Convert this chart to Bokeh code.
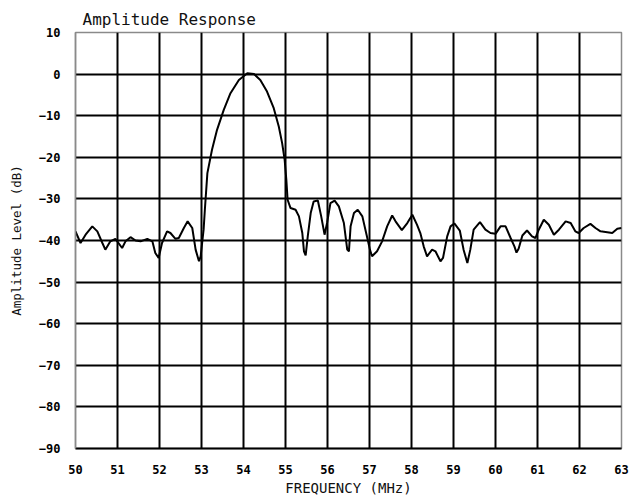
from bokeh.plotting import figure
from bokeh.models import FixedTicker, Range1d
from bokeh.embed import file_html
from bokeh.resources import INLINE

freq = [50.00, 50.12, 50.24, 50.40, 50.52, 50.64, 50.71, 50.83, 50.95, 51.11,
        51.19, 51.31, 51.43, 51.55, 51.71, 51.83, 51.90, 51.98, 52.06, 52.18,
        52.26, 52.38, 52.46, 52.58, 52.67, 52.78, 52.86, 52.94, 52.98, 53.05,
        53.08, 53.14, 53.25, 53.37, 53.53, 53.69, 53.89, 54.09, 54.25, 54.40,
        54.56, 54.72, 54.84, 54.92, 54.98, 55.02, 55.05, 55.12, 55.24, 55.32,
        55.40, 55.44, 55.48, 55.53, 55.60, 55.67, 55.77, 55.85, 55.93, 55.99,
        56.07, 56.17, 56.27, 56.39, 56.47, 56.51, 56.55, 56.63, 56.72, 56.83,
        56.93, 57.01, 57.06, 57.18, 57.30, 57.42, 57.54, 57.62, 57.77, 57.90,
        58.02, 58.13, 58.21, 58.29, 58.37, 58.49, 58.57, 58.69, 58.75, 58.85,
        58.93, 59.02, 59.15, 59.24, 59.33, 59.40, 59.48, 59.63, 59.76, 59.88,
        60.00, 60.12, 60.24, 60.36, 60.45, 60.50, 60.55, 60.64, 60.75, 60.87,
        60.95, 61.03, 61.15, 61.27, 61.39, 61.51, 61.67, 61.79, 61.90, 61.98,
        62.10, 62.26, 62.38, 62.50, 62.66, 62.78, 62.90, 63.00]

level = [-37.8, -40.6, -38.6, -36.6, -37.8, -40.6, -42.2, -40.2, -39.6, -41.8,
         -40.2, -39.2, -40.0, -40.2, -39.6, -40.2, -43.0, -44.2, -40.6, -37.8,
         -38.2, -39.6, -39.4, -37.0, -35.4, -37.0, -42.2, -45.0, -43.8, -37.4,
         -32.6, -23.8, -18.2, -13.4, -8.6, -4.6, -1.4, 0.2, 0.0, -1.4,
         -4.2, -8.2, -12.6, -16.6, -20.6, -25.4, -30.2, -32.2, -32.6, -34.2,
         -38.2, -42.6, -43.6, -39.0, -33.4, -30.6, -30.4, -34.2, -38.6, -35.8,
         -31.0, -30.4, -31.8, -35.8, -42.2, -42.6, -36.6, -33.4, -32.6, -34.2,
         -38.6, -42.2, -43.8, -42.6, -40.2, -36.6, -34.0, -35.4, -37.5, -35.8,
         -33.8, -36.2, -38.2, -41.4, -43.8, -42.2, -42.6, -45.0, -44.2, -39.0,
         -36.6, -35.9, -37.6, -42.2, -45.4, -42.2, -37.4, -35.6, -37.4, -38.2,
         -38.4, -36.6, -36.6, -39.4, -41.4, -42.9, -42.0, -38.8, -37.6, -39.0,
         -39.4, -37.4, -35.0, -36.2, -38.6, -37.4, -35.4, -35.8, -37.8, -38.2,
         -37.0, -36.0, -37.0, -37.8, -38.0, -38.2, -37.2, -37.0]

x_ticks = [50, 51, 52, 53, 54, 55, 56, 57, 58, 59, 60, 61, 62, 63]
x_tick_labels = ["50", "51", "52", "53", "54", "55", "56", "57", "58", "59",
                 "60", "61", "62", "63"]
y_ticks = [10, 0, -10, -20, -30, -40, -50, -60, -70, -80, -90]
y_tick_labels = ["10", "0", "\u221210", "\u221220", "\u221230", "\u221240",
                 "\u221250", "\u221260", "\u221270", "\u221280", "\u221290"]

title_text = "Amplitude Response"
x_label = "FREQUENCY (MHz)"
y_label = "Amplitude Level (dB)"

FONT = "DejaVu Sans Mono"

p = figure(width=637, height=498, output_backend="svg", toolbar_location=None,
           x_range=Range1d(50, 63), y_range=Range1d(-90, 10),
           min_border_left=75, min_border_right=16, min_border_top=32,
           min_border_bottom=48)

p.title.text = title_text
p.title.text_font = FONT
p.title.text_font_size = "16px"
p.title.text_font_style = "normal"
p.title.text_color = "#111111"
p.title.align = "left"
p.title.offset = 7
p.title.standoff = 7
p.title.vertical_align = "bottom"

p.outline_line_color = "#8a8a8a"
p.outline_line_width = 1.5
p.background_fill_color = "white"
p.border_fill_color = "white"

p.xaxis.ticker = FixedTicker(ticks=x_ticks)
p.yaxis.ticker = FixedTicker(ticks=y_ticks)
p.xaxis.major_label_overrides = {t: s for t, s in zip(x_ticks, x_tick_labels)}
p.yaxis.major_label_overrides = {t: s for t, s in zip(y_ticks, y_tick_labels)}

for ax in (p.xaxis[0], p.yaxis[0]):
    ax.major_tick_line_color = None
    ax.minor_tick_line_color = None
    ax.major_tick_out = 0
    ax.major_tick_in = 0
    ax.major_label_text_font = FONT
    ax.major_label_text_font_style = "bold"
    ax.major_label_text_font_size = "12px"
    ax.major_label_text_color = "black"
    ax.axis_label_text_font = FONT
    ax.axis_label_text_font_style = "normal"
    ax.axis_label_text_color = "#111111"

p.xaxis.axis_line_color = "black"
p.xaxis.axis_line_width = 2
p.yaxis.axis_line_color = "#8a8a8a"
p.yaxis.axis_line_width = 1.5

p.xaxis.major_label_standoff = 16
p.yaxis.major_label_standoff = 15
p.xaxis.axis_label = x_label
p.xaxis.axis_label_text_font_size = "14px"
p.xaxis.axis_label_standoff = 3
p.yaxis.axis_label = y_label
p.yaxis.axis_label_text_font_size = "12.5px"
p.yaxis.axis_label_standoff = 12

p.xgrid.ticker = FixedTicker(ticks=x_ticks[1:-1])
p.ygrid.ticker = FixedTicker(ticks=y_ticks[1:-1])
for g in (p.xgrid[0], p.ygrid[0]):
    g.grid_line_color = "black"
    g.grid_line_width = 2
    g.grid_line_alpha = 1.0

p.line(freq, level, line_color="black", line_width=2)

open("out.html", "w").write(file_html(p, INLINE))
